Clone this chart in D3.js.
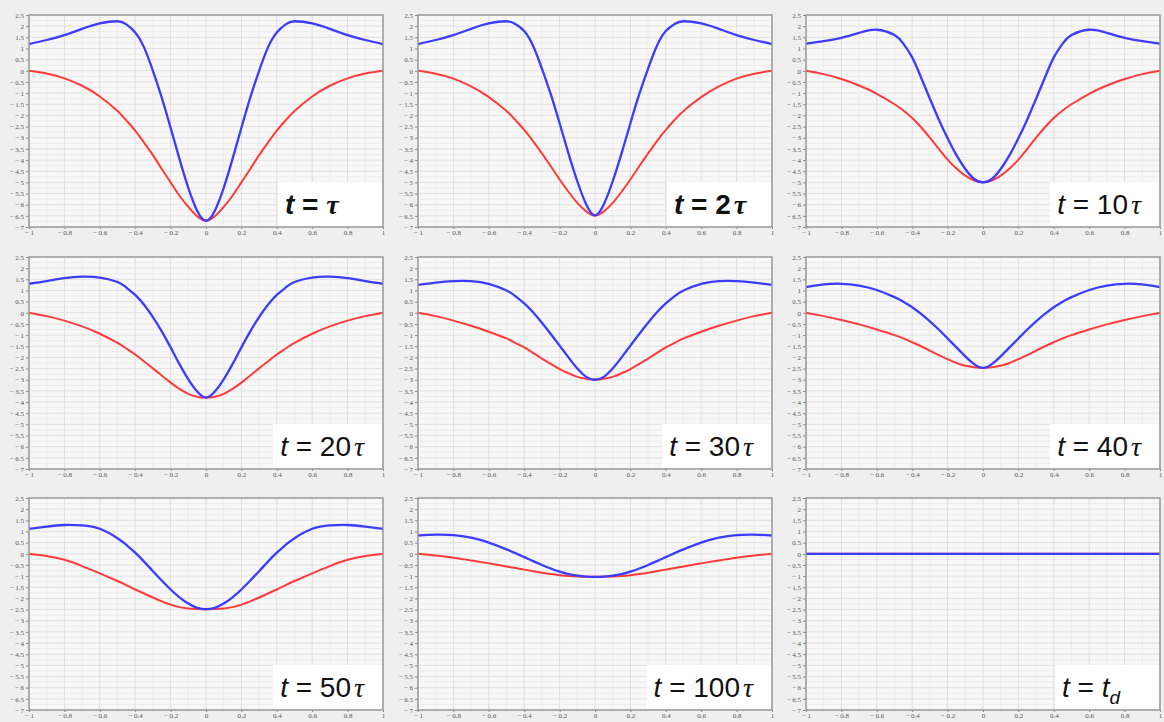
<!DOCTYPE html>
<html>
<head>
<meta charset="utf-8">
<script src="https://cdn.jsdelivr.net/npm/d3@7"></script>
<style>
  body { margin: 0; background: #efefef; }
  svg { display: block; }
</style>
</head>
<body>
<div id="plot"></div>
<script>
/* Step 1
 * Data
 */
// =================================
var xs = [-1, -0.9, -0.8, -0.7, -0.6, -0.5, -0.45, -0.4, -0.35, -0.3, -0.25, -0.2, -0.15, -0.1, -0.05, 0,
          0.05, 0.1, 0.15, 0.2, 0.25, 0.3, 0.35, 0.4, 0.45, 0.5, 0.6, 0.7, 0.8, 0.9, 1];

var xTicks = [-1, -0.8, -0.6, -0.4, -0.2, 0, 0.2, 0.4, 0.6, 0.8, 1];
var yTicks = [2.5, 2, 1.5, 1, 0.5, 0, -0.5, -1, -1.5, -2, -2.5, -3, -3.5, -4, -4.5, -5, -5.5, -6, -6.5, -7];

// time labels: multiplier of tau ("" = plain tau, null = t_d)
var timeLabels = ["", "2", "10", "20", "30", "40", "50", "100", null];

var blue1 = [1.2, 1.38, 1.6, 1.88, 2.12, 2.22, 2.08, 1.72, 1.05, 0.0, -1.2, -2.55, -3.95, -5.25, -6.27, -6.72, -6.27, -5.25, -3.95, -2.55, -1.2, 0.0, 1.05, 1.72, 2.08, 2.22, 2.12, 1.88, 1.6, 1.38, 1.2];
var red1 = [0, -0.12, -0.34, -0.67, -1.15, -1.8, -2.22, -2.68, -3.22, -3.78, -4.4, -5.0, -5.6, -6.1, -6.52, -6.72, -6.52, -6.1, -5.6, -5.0, -4.4, -3.78, -3.22, -2.68, -2.22, -1.8, -1.15, -0.67, -0.34, -0.12, 0];

var blue2 = [1.2, 1.38, 1.6, 1.88, 2.12, 2.22, 2.1, 1.78, 1.12, 0.1, -1.05, -2.35, -3.7, -4.95, -5.98, -6.48, -5.98, -4.95, -3.7, -2.35, -1.05, 0.1, 1.12, 1.78, 2.1, 2.22, 2.12, 1.88, 1.6, 1.38, 1.2];
var red2 = [0, -0.13, -0.35, -0.7, -1.18, -1.8, -2.2, -2.65, -3.15, -3.7, -4.28, -4.87, -5.42, -5.92, -6.3, -6.48, -6.3, -5.92, -5.42, -4.87, -4.28, -3.7, -3.15, -2.65, -2.2, -1.8, -1.18, -0.7, -0.35, -0.13, 0];

var blue3 = [1.22, 1.33, 1.48, 1.7, 1.84, 1.6, 1.22, 0.6, -0.3, -1.25, -2.18, -3.02, -3.78, -4.4, -4.85, -5.0, -4.85, -4.4, -3.78, -3.02, -2.18, -1.25, -0.3, 0.6, 1.22, 1.6, 1.84, 1.7, 1.48, 1.33, 1.22];
var red3 = [0, -0.15, -0.37, -0.66, -1.03, -1.5, -1.78, -2.12, -2.53, -3.0, -3.5, -3.98, -4.38, -4.7, -4.92, -5.0, -4.92, -4.7, -4.38, -3.98, -3.5, -3.0, -2.53, -2.12, -1.78, -1.5, -1.03, -0.66, -0.37, -0.15, 0];

var blue4 = [1.3, 1.42, 1.55, 1.62, 1.58, 1.38, 1.13, 0.8, 0.36, -0.19, -0.83, -1.55, -2.3, -2.98, -3.53, -3.8, -3.53, -2.98, -2.3, -1.55, -0.83, -0.19, 0.36, 0.8, 1.13, 1.38, 1.58, 1.62, 1.55, 1.42, 1.3];
var red4 = [0, -0.15, -0.35, -0.61, -0.94, -1.35, -1.6, -1.87, -2.18, -2.49, -2.81, -3.13, -3.41, -3.63, -3.76, -3.8, -3.76, -3.63, -3.41, -3.13, -2.81, -2.49, -2.18, -1.87, -1.6, -1.35, -0.94, -0.61, -0.35, -0.15, 0];

var blue5 = [1.25, 1.35, 1.42, 1.42, 1.3, 1.0, 0.75, 0.42, 0.02, -0.45, -0.95, -1.47, -2.0, -2.5, -2.87, -3.0, -2.87, -2.5, -2.0, -1.47, -0.95, -0.45, 0.02, 0.42, 0.75, 1.0, 1.3, 1.42, 1.42, 1.35, 1.25];
var red5 = [0, -0.15, -0.35, -0.58, -0.85, -1.15, -1.35, -1.55, -1.8, -2.05, -2.29, -2.52, -2.71, -2.87, -2.96, -3.0, -2.96, -2.87, -2.71, -2.52, -2.29, -2.05, -1.8, -1.55, -1.35, -1.15, -0.85, -0.58, -0.35, -0.15, 0];

var blue6 = [1.15, 1.27, 1.3, 1.22, 1.02, 0.7, 0.5, 0.25, -0.05, -0.38, -0.75, -1.15, -1.55, -1.95, -2.3, -2.47, -2.3, -1.95, -1.55, -1.15, -0.75, -0.38, -0.05, 0.25, 0.5, 0.7, 1.02, 1.22, 1.3, 1.27, 1.15];
var red6 = [0, -0.15, -0.32, -0.52, -0.75, -1.0, -1.15, -1.32, -1.5, -1.7, -1.9, -2.08, -2.25, -2.37, -2.44, -2.47, -2.44, -2.37, -2.25, -2.08, -1.9, -1.7, -1.5, -1.32, -1.15, -1.0, -0.75, -0.52, -0.32, -0.15, 0];

var blue7 = [1.12, 1.22, 1.29, 1.27, 1.12, 0.7, 0.4, 0.05, -0.35, -0.78, -1.2, -1.6, -1.95, -2.23, -2.42, -2.48, -2.42, -2.23, -1.95, -1.6, -1.2, -0.78, -0.35, 0.05, 0.4, 0.7, 1.12, 1.27, 1.29, 1.22, 1.12];
var red7 = [0, -0.1, -0.27, -0.55, -0.88, -1.22, -1.4, -1.6, -1.78, -1.96, -2.13, -2.28, -2.39, -2.45, -2.47, -2.48, -2.47, -2.45, -2.39, -2.28, -2.13, -1.96, -1.78, -1.6, -1.4, -1.22, -0.88, -0.55, -0.27, -0.1, 0];

var blue8 = [0.82, 0.86, 0.84, 0.72, 0.5, 0.2, 0.03, -0.15, -0.33, -0.5, -0.66, -0.8, -0.91, -0.98, -1.02, -1.03, -1.02, -0.98, -0.91, -0.8, -0.66, -0.5, -0.33, -0.15, 0.03, 0.2, 0.5, 0.72, 0.84, 0.86, 0.82];
var red8 = [0, -0.08, -0.18, -0.3, -0.43, -0.57, -0.64, -0.71, -0.78, -0.85, -0.91, -0.96, -1.0, -1.02, -1.03, -1.03, -1.03, -1.02, -1.0, -0.96, -0.91, -0.85, -0.78, -0.71, -0.64, -0.57, -0.43, -0.3, -0.18, -0.08, 0];

var blue9 = [0, 0, 0, 0, 0, 0, 0, 0, 0, 0, 0, 0, 0, 0, 0, 0, 0, 0, 0, 0, 0, 0, 0, 0, 0, 0, 0, 0, 0, 0, 0];
var red9 = [0, 0, 0, 0, 0, 0, 0, 0, 0, 0, 0, 0, 0, 0, 0, 0, 0, 0, 0, 0, 0, 0, 0, 0, 0, 0, 0, 0, 0, 0, 0];

var blueSeries = [blue1, blue2, blue3, blue4, blue5, blue6, blue7, blue8, blue9];
var redSeries = [red1, red2, red3, red4, red5, red6, red7, red8, red9];

/* Step 2
 * Workspace
 */
// =================================
var svgWidth = 1164;
var svgHeight = 722;

var colX = [29, 418, 806];
var rowY = [15, 257, 498];
var plotW = 354;
var plotH = 212;

var svg = d3.select("#plot")
    .append("svg")
    .attr("width", svgWidth)
    .attr("height", svgHeight);

var xScale = d3.scaleLinear().domain([-1, 1]).range([0, plotW]);
var yScale = d3.scaleLinear().domain([-7, 2.5]).range([plotH, 0]);

function fmt(d) {
    if (d === 0) return "0";
    return d < 0 ? "\u2212\u2009" + Math.abs(d) : String(d);
}

var lineGenerator = d3.line()
    .x((d, i) => xScale(xs[i]))
    .y(d => yScale(d))
    .curve(d3.curveNatural);

/* Step 3
 * Draw each panel
 */
// =================================
timeLabels.forEach(function (lab, i) {
    var g = svg.append("g")
        .attr("transform", `translate(${colX[i % 3]}, ${rowY[Math.floor(i / 3)]})`);

    g.append("rect")
        .attr("width", plotW)
        .attr("height", plotH)
        .attr("fill", "#f7f7f7");

    // minor grid
    g.selectAll(".vminor")
        .data(d3.range(-0.9, 1, 0.2))
        .enter().append("line")
        .attr("x1", d => xScale(d)).attr("x2", d => xScale(d))
        .attr("y1", 0).attr("y2", plotH)
        .attr("stroke", "#ececec");
    g.selectAll(".hminor")
        .data(d3.range(-6.75, 2.5, 0.5))
        .enter().append("line")
        .attr("x1", 0).attr("x2", plotW)
        .attr("y1", d => yScale(d)).attr("y2", d => yScale(d))
        .attr("stroke", "#ececec");

    // major grid
    g.selectAll(".vmajor")
        .data(xTicks)
        .enter().append("line")
        .attr("x1", d => xScale(d)).attr("x2", d => xScale(d))
        .attr("y1", 0).attr("y2", plotH)
        .attr("stroke", "#dcdcdc");
    g.selectAll(".hmajor")
        .data(yTicks)
        .enter().append("line")
        .attr("x1", 0).attr("x2", plotW)
        .attr("y1", d => yScale(d)).attr("y2", d => yScale(d))
        .attr("stroke", "#e2e2e2");

    // axes
    var yAxis = g.append("g")
        .call(d3.axisLeft(yScale).tickValues(yTicks).tickSize(3).tickPadding(2).tickFormat(fmt));
    var xAxis = g.append("g")
        .attr("transform", `translate(0, ${plotH})`)
        .call(d3.axisBottom(xScale).tickValues(xTicks).tickSize(2).tickPadding(1).tickFormat(fmt));
    [yAxis, xAxis].forEach(function (ax) {
        ax.select(".domain").remove();
        ax.selectAll("line").attr("stroke", "#888");
        ax.selectAll("text")
            .attr("fill", "#555")
            .style("font-family", "Liberation Serif")
            .style("font-size", "7px");
    });

    // curves (red slightly thinner so it hides under blue where they coincide)
    g.append("path")
        .attr("d", lineGenerator(redSeries[i]))
        .attr("fill", "none")
        .attr("stroke", "#ff3a3a")
        .attr("stroke-width", 2);
    g.append("path")
        .attr("d", lineGenerator(blueSeries[i]))
        .attr("fill", "none")
        .attr("stroke", "#3c3cff")
        .attr("stroke-width", 2.3);

    // frame
    g.append("rect")
        .attr("width", plotW)
        .attr("height", plotH)
        .attr("fill", "none")
        .attr("stroke", "#9a9a9a")
        .attr("stroke-width", 1.5);

    /* Step 4
     * Time label in the lower right corner
     */
    var bold = (i < 2) ? "bold" : "normal";
    var box = g.append("rect").attr("fill", "#ffffff");
    var txt = g.append("text")
        .attr("y", plotH - 13)
        .attr("x", 0)
        .style("font-family", "Liberation Sans, Arial, sans-serif")
        .style("font-size", "28px")
        .style("font-weight", bold)
        .attr("fill", "#111");
    txt.append("tspan").style("font-style", "italic").text("t");
    txt.append("tspan").text(" = ");
    if (lab === null) {
        txt.append("tspan").style("font-style", "italic").text("t");
        txt.append("tspan").style("font-style", "italic").style("font-size", "19px").attr("dy", 7).text("d");
    } else {
        txt.append("tspan").text(lab);
        txt.append("tspan")
            .style("font-style", "italic")
            .style("font-family", "Liberation Serif, serif")
            .attr("dx", lab === "" ? 0 : 3)
            .text("\u03c4");
    }
    var bb = txt.node().getBBox();
    var boxW = Math.max(104, bb.width + 24);
    var boxX = plotW - 1 - boxW;
    txt.attr("x", boxX + 7);
    box.attr("x", boxX)
        .attr("y", plotH - 45)
        .attr("width", boxW)
        .attr("height", 44);
});
</script>
</body>
</html>
